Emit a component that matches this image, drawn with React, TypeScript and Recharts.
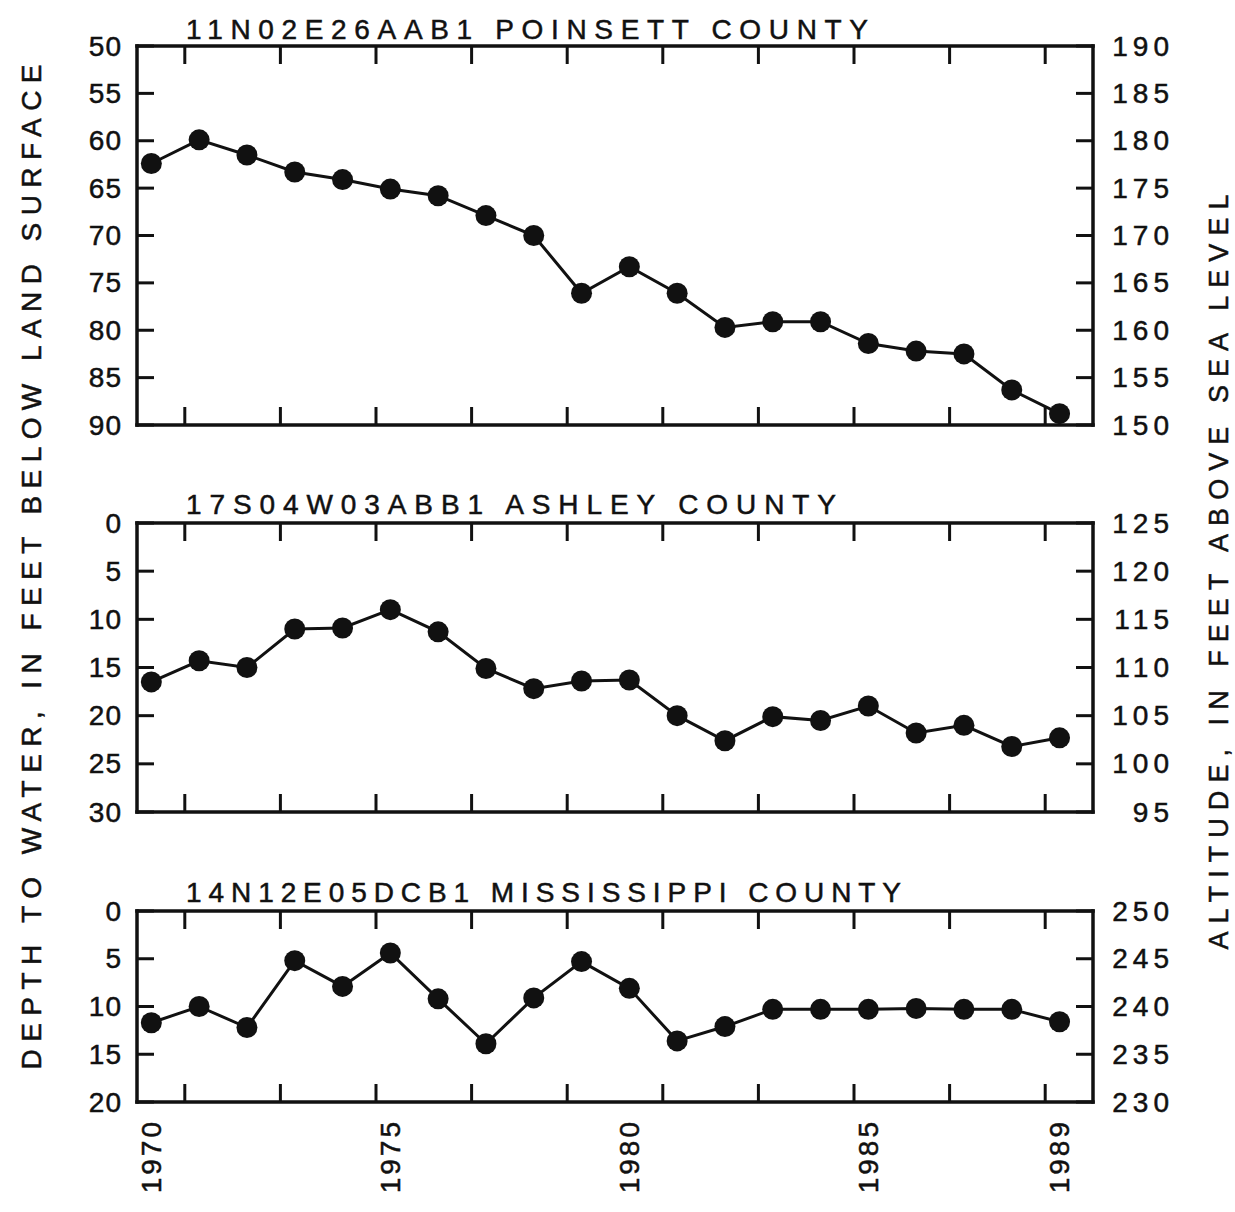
import { Line, LineChart, XAxis, YAxis } from "recharts";

const FONT = "'Liberation Sans', Arial, sans-serif";
const INK = "#111";

const years = [
  1970, 1971, 1972, 1973, 1974, 1975, 1976, 1977, 1978, 1979,
  1980, 1981, 1982, 1983, 1984, 1985, 1986, 1987, 1988, 1989,
];

// depth to water, feet below land surface
const poinsettDepth = [
  62.4, 59.9, 61.5, 63.3, 64.1, 65.1, 65.8, 67.9, 70.0, 76.1,
  73.3, 76.1, 79.7, 79.1, 79.1, 81.4, 82.2, 82.5, 86.3, 88.8,
];
const ashleyDepth = [
  16.5, 14.3, 15.0, 11.0, 10.9, 9.0, 11.3, 15.1, 17.2, 16.4,
  16.3, 20.0, 22.6, 20.1, 20.5, 19.0, 21.8, 21.0, 23.2, 22.3,
];
const mississippiDepth = [
  11.7, 10.0, 12.2, 5.2, 7.9, 4.4, 9.2, 13.9, 9.1, 5.3,
  8.1, 13.6, 12.1, 10.3, 10.3, 10.3, 10.2, 10.3, 10.3, 11.6,
];

// x axis: year tick marks (inward) and the labelled years
const xDomain = [1969.7, 1989.7];
const markTicks = [
  1970.7, 1971.7, 1972.7, 1973.7, 1974.7, 1975.7, 1976.7, 1977.7, 1978.7, 1979.7,
  1980.7, 1981.7, 1982.7, 1983.7, 1984.7, 1985.7, 1986.7, 1987.7, 1988.7,
];
const labelYears = [1970, 1975, 1980, 1985, 1989];

const poinsettTicks = [50, 55, 60, 65, 70, 75, 80, 85, 90];
const poinsettAltTicks = [150, 155, 160, 165, 170, 175, 180, 185, 190];
const ashleyTicks = [0, 5, 10, 15, 20, 25, 30];
const ashleyAltTicks = [95, 100, 105, 110, 115, 120, 125];
const mississippiTicks = [0, 5, 10, 15, 20];
const mississippiAltTicks = [230, 235, 240, 245, 250];

const axisLine = { stroke: INK, strokeWidth: 3.5, strokeLinecap: "square" as const };
const tickLine = { stroke: INK, strokeWidth: 3 };
// the scanned lettering is a touch heavier than a regular weight
const inkText = { fontFamily: FONT, fill: INK, stroke: INK, strokeWidth: 0.5 };

const NoLabel = () => <g />;

const LeftTick = (props: any) => (
  <text
    x={props.x}
    y={props.y}
    textAnchor="end"
    dominantBaseline="central"
    fontSize={28}
    letterSpacing={1}
    {...inkText}
  >
    {props.payload.value}
  </text>
);

const RightTick = (props: any) => (
  <text
    x={props.x}
    y={props.y}
    textAnchor="end"
    dominantBaseline="central"
    fontSize={28}
    letterSpacing={5}
    {...inkText}
  >
    {props.payload.value}
  </text>
);

const YearTick = (props: any) => (
  <text
    x={props.x}
    y={props.y}
    transform={`rotate(-90, ${props.x}, ${props.y})`}
    textAnchor="end"
    dominantBaseline="central"
    fontSize={28}
    letterSpacing={3}
    {...inkText}
  >
    {props.payload.value}
  </text>
);

type PanelProps = {
  top: number;
  height: number;
  marginTop: number;
  marginBottom: number;
  depth: number[];
  depthTicks: number[];
  altTicks: number[];
  showYears?: boolean;
};

function Panel({ top, height, marginTop, marginBottom, depth, depthTicks, altTicks, showYears }: PanelProps) {
  const data = years.map((year, i) => ({ year, depth: depth[i] }));
  const yDomain = [depthTicks[0], depthTicks[depthTicks.length - 1]];
  const altDomain = [altTicks[0], altTicks[altTicks.length - 1]];

  return (
    <div style={{ position: "absolute", left: 0, top }}>
      <LineChart
        width={1235}
        height={height}
        data={data}
        margin={{ top: marginTop, right: 62, bottom: marginBottom, left: 77 }}
      >
        <XAxis
          xAxisId="b"
          type="number"
          dataKey="year"
          domain={xDomain}
          ticks={markTicks}
          allowDataOverflow
          height={1}
          tick={<NoLabel />}
          tickSize={-18}
          axisLine={axisLine}
          tickLine={tickLine}
        />
        {showYears && (
          <XAxis
            xAxisId="lbl"
            type="number"
            dataKey="year"
            domain={xDomain}
            ticks={labelYears}
            allowDataOverflow
            height={98}
            tickSize={0}
            tickMargin={16}
            axisLine={false}
            tickLine={false}
            tick={<YearTick />}
          />
        )}
        <XAxis
          xAxisId="t"
          orientation="top"
          type="number"
          dataKey="year"
          domain={xDomain}
          ticks={markTicks}
          allowDataOverflow
          height={1}
          tick={<NoLabel />}
          tickSize={-18}
          axisLine={axisLine}
          tickLine={tickLine}
        />
        <YAxis
          yAxisId="l"
          type="number"
          reversed
          domain={yDomain}
          ticks={depthTicks}
          allowDataOverflow
          width={60}
          tickSize={-17}
          tickMargin={32}
          axisLine={axisLine}
          tickLine={tickLine}
          tick={<LeftTick />}
        />
        <YAxis
          yAxisId="r"
          orientation="right"
          type="number"
          domain={altDomain}
          ticks={altTicks}
          allowDataOverflow
          width={80}
          tickSize={-17}
          tickMargin={98}
          axisLine={axisLine}
          tickLine={tickLine}
          tick={<RightTick />}
        />
        <Line
          xAxisId="b"
          yAxisId="l"
          type="linear"
          dataKey="depth"
          stroke={INK}
          strokeWidth={3}
          dot={{ r: 10.5, fill: INK, stroke: "none" }}
          activeDot={false}
          isAnimationActive={false}
        />
      </LineChart>
    </div>
  );
}

export default function App() {
  const textStyle = { ...inkText, fontSize: 28 };
  return (
    <div style={{ position: "relative", width: 1235, height: 1212, background: "#fff" }}>
      <style>{"body{margin:0}"}</style>
      <Panel
        top={0}
        height={440}
        marginTop={45}
        marginBottom={14}
        depth={poinsettDepth}
        depthTicks={poinsettTicks}
        altTicks={poinsettAltTicks}
      />
      <Panel
        top={470}
        height={360}
        marginTop={52}
        marginBottom={17}
        depth={ashleyDepth}
        depthTicks={ashleyTicks}
        altTicks={ashleyAltTicks}
      />
      <Panel
        top={860}
        height={352}
        marginTop={50}
        marginBottom={11}
        depth={mississippiDepth}
        depthTicks={mississippiTicks}
        altTicks={mississippiAltTicks}
        showYears
      />
      <svg
        width={1235}
        height={1212}
        style={{ position: "absolute", left: 0, top: 0, pointerEvents: "none" }}
      >
        <text x={186} y={39} textLength={682} lengthAdjust="spacing" {...textStyle}>
          11N02E26AAB1 POINSETT COUNTY
        </text>
        <text x={186} y={514} textLength={650} lengthAdjust="spacing" {...textStyle}>
          17S04W03ABB1 ASHLEY COUNTY
        </text>
        <text x={186} y={902} textLength={715} lengthAdjust="spacing" {...textStyle}>
          14N12E05DCB1 MISSISSIPPI COUNTY
        </text>
        <text
          transform="translate(31,567) rotate(-90)"
          textAnchor="middle"
          dominantBaseline="central"
          textLength={1005}
          lengthAdjust="spacing"
          {...textStyle}
        >
          DEPTH TO WATER, IN FEET BELOW LAND SURFACE
        </text>
        <text
          transform="translate(1219,572) rotate(-90)"
          textAnchor="middle"
          dominantBaseline="central"
          textLength={755}
          lengthAdjust="spacing"
          {...textStyle}
          fontSize={27}
        >
          ALTITUDE, IN FEET ABOVE SEA LEVEL
        </text>
      </svg>
    </div>
  );
}
